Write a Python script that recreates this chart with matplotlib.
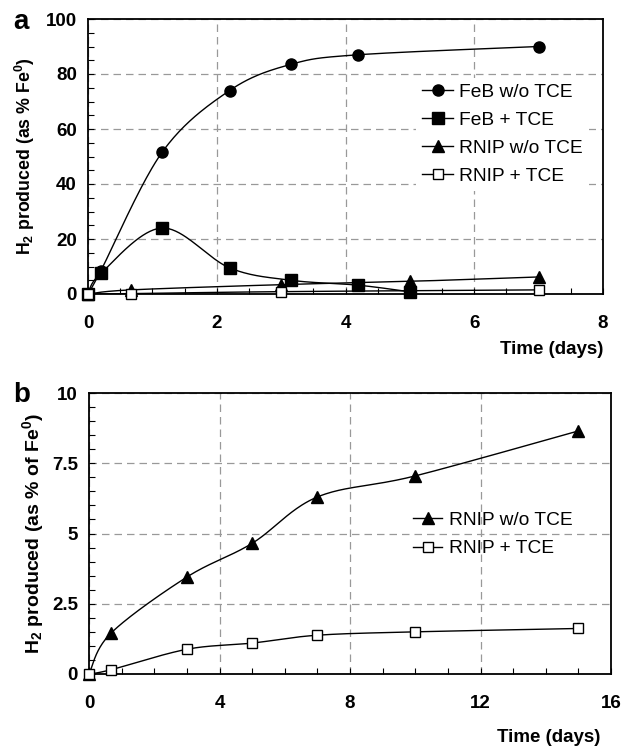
import numpy as np
import matplotlib
matplotlib.use("Agg")
import matplotlib.pyplot as plt
from matplotlib.lines import Line2D
from matplotlib.ticker import MultipleLocator

plt.rcParams['font.family'] = 'Liberation Sans'
plt.rcParams['mathtext.fontset'] = 'custom'
plt.rcParams['mathtext.rm'] = 'Liberation Sans:bold'
plt.rcParams['mathtext.it'] = 'Liberation Sans:bold'
plt.rcParams['mathtext.bf'] = 'Liberation Sans:bold'

# panel a data (days, H2 as % Fe0)
a_feb_days = [0, 0.2, 1.15, 2.2, 3.15, 4.2, 7]
a_feb_h2 = [0, 8.5, 51.5, 74, 83.5, 87, 90]
a_febtce_days = [0, 0.2, 1.15, 2.2, 3.15, 4.2, 5]
a_febtce_h2 = [0, 7.5, 24, 9.5, 5, 3.2, 0.8]
a_rnip_days = [0, 0.67, 3, 5, 7]
a_rnip_h2 = [0, 1.5, 3.4, 4.6, 6.2]
a_rniptce_days = [0, 0.67, 3, 7]
a_rniptce_h2 = [0, 0.15, 0.85, 1.5]

# panel b data
b_days = [0, 0.67, 3, 5, 7, 10, 15]
b_rnip_h2 = [0, 1.45, 3.45, 4.65, 6.3, 7.05, 8.65]
b_rniptce_h2 = [0, 0.15, 0.88, 1.1, 1.38, 1.5, 1.62]

a_labels = ['FeB w/o TCE', 'FeB + TCE', 'RNIP w/o TCE', 'RNIP + TCE']
b_labels = ['RNIP w/o TCE', 'RNIP + TCE']

FS = 13.5    # tick / axis label size
LFS = 13.8   # legend size


def smooth(x, y, n=40):
    # catmull-rom path through the points, like excel's smoothed lines
    x = np.asarray(x, float)
    y = np.asarray(y, float)
    px = np.r_[x[0], x, x[-1]]
    py = np.r_[y[0], y, y[-1]]
    t = np.linspace(0, 1, n)
    xs, ys = [], []
    for i in range(1, len(px) - 2):
        for p, out in ((px, xs), (py, ys)):
            p0, p1, p2, p3 = p[i-1], p[i], p[i+1], p[i+2]
            out.append(0.5*(2*p1 + (-p0 + p2)*t + (2*p0 - 5*p1 + 4*p2 - p3)*t**2
                            + (-p0 + 3*p1 - 3*p2 + p3)*t**3))
    return np.concatenate(xs), np.concatenate(ys)


styles = {
    'circle': dict(marker='o', mfc='black', ms=8),
    'square': dict(marker='s', mfc='black', ms=8),
    'triangle': dict(marker='^', mfc='black', ms=9),
    'open': dict(marker='s', mfc='white', ms=7.5),
}


def draw(ax, x, y, st):
    sx, sy = smooth(x, y)
    ax.plot(sx, sy, color='black', lw=1.0, zorder=3)
    ax.plot(x, y, linestyle='none', mec='black', mew=1.0, clip_on=False,
            zorder=4, **styles[st])


def handle(st):
    return Line2D([], [], color='black', lw=1.0, mec='black', mew=1.0, **styles[st])


def style_axes(ax):
    for s in ax.spines.values():
        s.set_linewidth(1.3)
    ax.tick_params(which='both', direction='in', top=False, right=False,
                   width=0.8, labelsize=FS)
    ax.tick_params(which='major', length=4)
    ax.tick_params(which='minor', length=4)
    ax.tick_params(axis='y', pad=8)
    ax.tick_params(axis='x', pad=15)
    for lab in ax.get_xticklabels() + ax.get_yticklabels():
        lab.set_fontweight('bold')
    ax.grid(True, which='major', linestyle=(0, (6, 4)), color='#999999', lw=0.9)
    ax.set_axisbelow(True)


fig = plt.figure(figsize=(6.23, 7.5), dpi=100)

# panel a
ax1 = fig.add_axes([88/623, 1 - 294/750, (603-88)/623, (294-19)/750])
draw(ax1, a_feb_days, a_feb_h2, 'circle')
draw(ax1, a_febtce_days, a_febtce_h2, 'square')
draw(ax1, a_rnip_days, a_rnip_h2, 'triangle')
draw(ax1, a_rniptce_days, a_rniptce_h2, 'open')
ax1.set_xlim(0, 8)
ax1.set_ylim(0, 100)
ax1.xaxis.set_major_locator(MultipleLocator(2))
ax1.xaxis.set_minor_locator(MultipleLocator(0.5))
ax1.yaxis.set_major_locator(MultipleLocator(20))
ax1.yaxis.set_minor_locator(MultipleLocator(5))
style_axes(ax1)
ax1.set_ylabel(r'H$_2$ produced (as % Fe$^0$)', fontsize=12.8, fontweight='bold', labelpad=6)
leg = ax1.legend([handle(s) for s in ['circle', 'square', 'triangle', 'open']], a_labels,
                 loc='upper left', bbox_to_anchor=(0.637, 0.787), fontsize=LFS,
                 handlelength=1.65, handletextpad=0.3, labelspacing=0.56,
                 frameon=True, fancybox=False, borderpad=0.3, borderaxespad=0)
leg.get_frame().set_edgecolor('none')
leg.get_frame().set_facecolor('white')
leg.get_frame().set_alpha(1)
fig.text(603/623, 1 - 350/750, 'Time (days)', ha='right', va='center',
         fontsize=FS, fontweight='bold')
fig.text(13/623, 1 - 22/750, 'a', ha='left', va='center', fontsize=20, fontweight='bold')

# panel b
ax2 = fig.add_axes([89/623, 1 - 674/750, (611-89)/623, (674-393)/750])
draw(ax2, b_days, b_rnip_h2, 'triangle')
draw(ax2, b_days, b_rniptce_h2, 'open')
ax2.set_xlim(0, 16)
ax2.set_ylim(0, 10)
ax2.xaxis.set_major_locator(MultipleLocator(4))
ax2.xaxis.set_minor_locator(MultipleLocator(1))
ax2.yaxis.set_major_locator(MultipleLocator(2.5))
ax2.yaxis.set_minor_locator(MultipleLocator(0.5))
ax2.yaxis.set_major_formatter(plt.FuncFormatter(lambda v, p: f'{v:g}'))
style_axes(ax2)
ax2.set_ylabel(r'H$_2$ produced (as % of Fe$^0$)', fontsize=14, fontweight='bold', labelpad=4)
leg2 = ax2.legend([handle(s) for s in ['triangle', 'open']], b_labels,
                  loc='upper left', bbox_to_anchor=(0.609, 0.598), fontsize=LFS,
                  handlelength=1.55, handletextpad=0.35, labelspacing=0.57,
                  frameon=False, borderpad=0.3, borderaxespad=0)
fig.text(600/623, 1 - 738/750, 'Time (days)', ha='right', va='center',
         fontsize=FS, fontweight='bold')
fig.text(13/623, 1 - 395/750, 'b', ha='left', va='center', fontsize=20, fontweight='bold')

fig.savefig('out.png', dpi=100)
